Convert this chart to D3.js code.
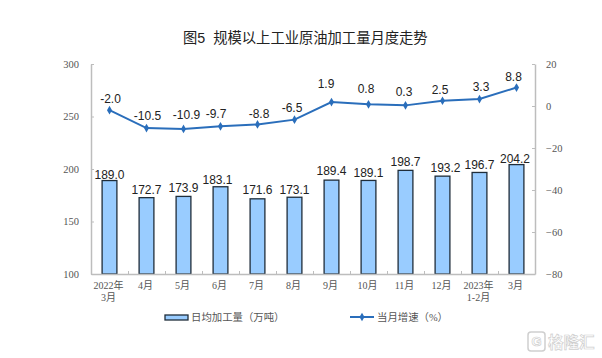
<!DOCTYPE html>
<html>
<head>
<meta charset="utf-8">
<script src="https://cdnjs.cloudflare.com/ajax/libs/d3/7.8.5/d3.min.js"></script>
<style>
  html, body { margin: 0; padding: 0; background: #fff; }
  svg { display: block; }
  text { font-family: "Liberation Sans", "Noto Sans CJK SC", sans-serif; }
  .tick text, .cat, .legend-label { font-family: "Liberation Serif", "Noto Sans CJK SC", serif; fill: #555; }
</style>
</head>
<body>
<div id="chart"></div>
<script>
const categories = ["2022年\n3月", "4月", "5月", "6月", "7月", "8月", "9月", "10月", "11月", "12月", "2023年\n1-2月", "3月"];
const output = [189.0, 172.7, 173.9, 183.1, 171.6, 173.1, 189.4, 189.1, 198.7, 193.2, 196.7, 204.2];
const growth = [-2.0, -10.5, -10.9, -9.7, -8.8, -6.5, 1.9, 0.8, 0.3, 2.5, 3.3, 8.8];
const leftTicks = [100, 150, 200, 250, 300];
const rightTicks = [-80, -60, -40, -20, 0, 20];

// labels were hand-placed in the original, so nudge them from their default spot
const barLabelNudge = [[0, 1], [0, -1], [0, -1.5], [-3, 0], [0, -2], [0, 0], [0, -2], [0, 0], [0, -1.5], [3, -1], [0, 0], [-1.5, 1.5]];
const lineLabelNudge = [[1, 0], [1, -1.5], [3, -3], [-4.5, -1.5], [1.5, 0.5], [-2.5, -0.5], [-5.5, -7], [-2.5, -4.5], [-1.5, -2.5], [-2.5, 0], [1.5, -1], [-3, 0]];

const width = 602, height = 358;
const svg = d3.select("#chart").append("svg")
  .attr("width", width)
  .attr("height", height);

const x = d3.scaleBand()
  .domain(categories)
  .range([91, 535])
  .paddingInner(0.6)
  .paddingOuter(0.3);

const tickPos = d3.scaleLinear().domain([0, categories.length]).range([91, 535]);
const yLeft = d3.scaleLinear().domain([100, 300]).range([274, 64]);
const yRight = d3.scaleLinear().domain([-80, 20]).range([274, 64]);
const cx = d => x(d) + x.bandwidth() / 2;

svg.append("text")
  .attr("x", 183)
  .attr("y", 43)
  .attr("font-size", 14.3)
  .attr("fill", "#222")
  .text("图5\u00a0\u00a0规模以上工业原油加工量月度走势");

// bars
svg.selectAll(".bar")
  .data(output)
  .join("rect")
  .attr("class", "bar")
  .attr("x", (d, i) => x(categories[i]))
  .attr("y", d => yLeft(d))
  .attr("width", x.bandwidth())
  .attr("height", d => yLeft(100) - yLeft(d))
  .attr("fill", "#99ccff")
  .attr("stroke", "#1f2d3a")
  .attr("stroke-width", 1.3);

// axes
const styleAxis = g => {
  g.selectAll(".domain").attr("stroke", "#bdbdbd").attr("stroke-width", 1.5);
  g.selectAll(".tick line").attr("stroke", "#bdbdbd").attr("stroke-width", 1);
  g.selectAll(".tick text").attr("font-size", 10.5);
};

svg.append("g")
  .attr("transform", "translate(91,0)")
  .call(d3.axisLeft(yLeft).tickValues(leftTicks).tickSize(-3).tickSizeOuter(0).tickPadding(12))
  .call(styleAxis);

svg.append("g")
  .attr("transform", "translate(535,0)")
  .call(d3.axisRight(yRight).tickValues(rightTicks).tickSize(-3).tickSizeOuter(0).tickPadding(11))
  .call(styleAxis);

svg.append("g")
  .attr("transform", "translate(0,274)")
  .call(d3.axisBottom(tickPos).tickValues(d3.range(categories.length + 1)).tickSize(-3).tickSizeOuter(0).tickFormat(""))
  .call(styleAxis);

// category labels, two lines where the original breaks them
const cats = svg.selectAll(".cat")
  .data(categories)
  .join("text")
  .attr("class", "cat")
  .attr("text-anchor", "middle")
  .attr("font-size", 10);

cats.selectAll("tspan")
  .data(d => d.split("\n").map(t => ({ t, cat: d })))
  .join("tspan")
  .attr("x", d => cx(d.cat) - 1)
  .attr("y", (d, i) => 289 + i * 12)
  .text(d => d.t);

// line
const line = d3.line()
  .x((d, i) => cx(categories[i]))
  .y(d => yRight(d));

svg.append("path")
  .datum(growth)
  .attr("d", line)
  .attr("fill", "none")
  .attr("stroke", "#2a6ebb")
  .attr("stroke-width", 2);

const diamond = d3.symbol().type(d3.symbolDiamond).size(22);

svg.selectAll(".pt")
  .data(growth)
  .join("path")
  .attr("class", "pt")
  .attr("d", diamond)
  .attr("transform", (d, i) => `translate(${cx(categories[i])},${yRight(d)})`)
  .attr("fill", "#2a6ebb");

// value labels
svg.selectAll(".bar-label")
  .data(output)
  .join("text")
  .attr("class", "bar-label")
  .attr("x", (d, i) => cx(categories[i]) + barLabelNudge[i][0])
  .attr("y", (d, i) => yLeft(d) - 3 + barLabelNudge[i][1])
  .attr("text-anchor", "middle")
  .attr("font-size", 12)
  .attr("fill", "#222")
  .text(d => d.toFixed(1));

svg.selectAll(".line-label")
  .data(growth)
  .join("text")
  .attr("class", "line-label")
  .attr("x", (d, i) => cx(categories[i]) + lineLabelNudge[i][0])
  .attr("y", (d, i) => yRight(d) - 7 + lineLabelNudge[i][1])
  .attr("text-anchor", "middle")
  .attr("font-size", 12)
  .attr("fill", "#222")
  .text(d => d.toFixed(1));

// legend
const legend = svg.append("g");

legend.append("rect")
  .attr("x", 165)
  .attr("y", 315)
  .attr("width", 23)
  .attr("height", 5)
  .attr("fill", "#99ccff")
  .attr("stroke", "#1f2d3a")
  .attr("stroke-width", 1.3);

legend.append("text")
  .attr("class", "legend-label")
  .attr("x", 191)
  .attr("y", 321)
  .attr("font-size", 10.4)
  .text("日均加工量（万吨）");

legend.append("line")
  .attr("x1", 350)
  .attr("x2", 374)
  .attr("y1", 317)
  .attr("y2", 317)
  .attr("stroke", "#2a6ebb")
  .attr("stroke-width", 2);

legend.append("path")
  .attr("d", diamond)
  .attr("transform", "translate(362,317)")
  .attr("fill", "#2a6ebb");

legend.append("text")
  .attr("class", "legend-label")
  .attr("x", 377)
  .attr("y", 321)
  .attr("font-size", 10.4)
  .text("当月增速（%）");

// watermark
const mark = svg.append("g")
  .attr("fill", "#fff")
  .attr("stroke", "#cfcfcf")
  .attr("stroke-width", 0.7);

mark.append("rect")
  .attr("x", 528)
  .attr("y", 332)
  .attr("width", 17)
  .attr("height", 19)
  .attr("rx", 3)
  .attr("fill", "none")
  .attr("stroke-width", 1.5);

mark.append("text")
  .attr("x", 536.5)
  .attr("y", 346)
  .attr("text-anchor", "middle")
  .attr("font-size", 13)
  .attr("font-weight", "bold")
  .text("G");

mark.append("text")
  .attr("x", 548)
  .attr("y", 348)
  .attr("font-size", 15.5)
  .attr("font-weight", "bold")
  .text("格隆汇");
</script>
</body>
</html>
